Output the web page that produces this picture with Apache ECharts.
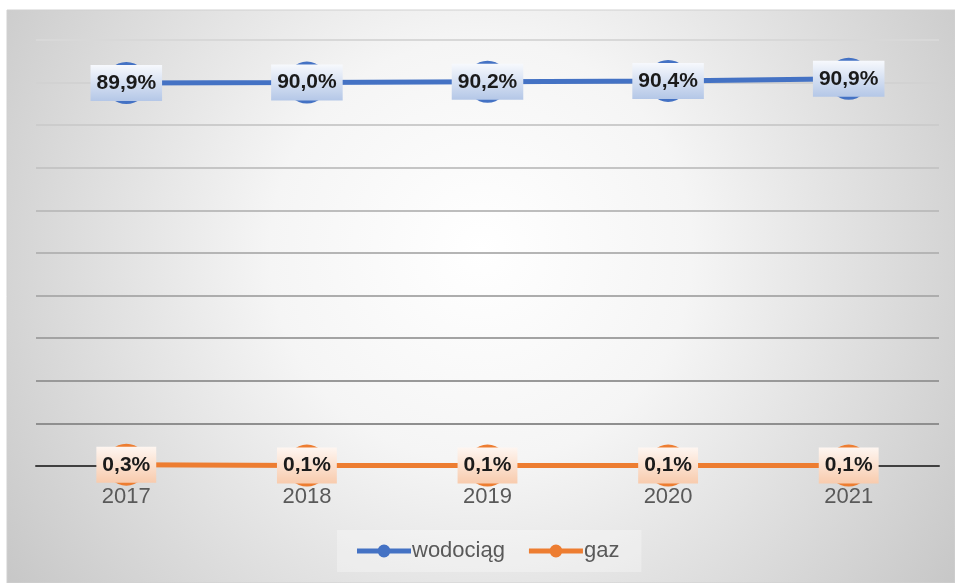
<!DOCTYPE html>
<html>
<head>
<meta charset="utf-8">
<script src="https://cdn.jsdelivr.net/npm/echarts@6/dist/echarts.min.js"></script>
<style>
html,body{margin:0;padding:0;background:#ffffff;}
#chart{width:955px;height:583px;}
</style>
</head>
<body>
<div id="chart"></div>
<script>
var categories = ['2017', '2018', '2019', '2020', '2021'];
var wodociag = [89.9, 90.0, 90.2, 90.4, 90.9];
var gaz = [0.3, 0.1, 0.1, 0.1, 0.1];
var seriesNames = ['wodociąg', 'gaz'];

var chart = echarts.init(document.getElementById('chart'));
var font = '"Liberation Sans", Arial, sans-serif';
function fmt(p) { return p.value.toFixed(1).replace('.', ',') + '%'; }
var legendIcon = 'path://M0,4.5 L54,4.5 L54,9.5 L0,9.5 Z M20.5,7 A6.5,6.5 0 1,1 33.5,7 A6.5,6.5 0 1,1 20.5,7 Z';

function labelStyle(top, bottom) {
  return {
    show: true,
    position: 'inside',
    formatter: fmt,
    fontFamily: font,
    fontWeight: 'bold',
    fontSize: 21,
    color: '#1a1a1a',
    padding: [8, 6, 7, 6],
    backgroundColor: {
      type: 'linear', x: 0, y: 0, x2: 0, y2: 1,
      colorStops: [{offset: 0, color: top}, {offset: 1, color: bottom}]
    }
  };
}

chart.setOption({
  animation: false,
  graphic: [{
    type: 'rect', z: -10, silent: true,
    shape: {x: 7, y: 10, width: 948, height: 573},
    style: {
      fill: {
        type: 'radial', x: 0.5, y: 0.42, r: 1.05,
        colorStops: [
          {offset: 0, color: '#ffffff'},
          {offset: 0.35, color: '#f5f5f5'},
          {offset: 1, color: '#c4c4c4'}
        ]
      },
      stroke: '#d0d0d0', lineWidth: 1
    }
  }],
  grid: {left: 36, right: 16, top: 40, bottom: 117, containLabel: false},
  legend: {
    data: seriesNames,
    bottom: 11,
    left: 337,
    icon: legendIcon,
    itemWidth: 54,
    itemHeight: 14,
    itemGap: 24,
    padding: [10, 22, 10, 20],
    backgroundColor: 'rgba(255,255,255,0.3)',
    textStyle: {fontFamily: font, fontSize: 22, color: '#595959', padding: [0, 0, 0, -4]}
  },
  xAxis: {
    type: 'category',
    data: categories,
    boundaryGap: true,
    axisLine: {show: true, lineStyle: {color: '#404040', width: 2}},
    axisTick: {show: false},
    axisLabel: {fontFamily: font, fontSize: 22, color: '#595959', margin: 20}
  },
  yAxis: {
    type: 'value',
    min: 0, max: 100, interval: 10,
    axisLabel: {show: false},
    axisLine: {show: false},
    axisTick: {show: false},
    splitLine: {lineStyle: {width: 2, color: ['#7f7f7f', '#8f8f8f', '#999999', '#a3a3a3', '#adadad', '#b5b5b5', '#bdbdbd', '#c5c5c5', '#cccccc', '#d2d2d2', '#d8d8d8']}}
  },
  series: [{
    name: seriesNames[0],
    type: 'line',
    data: wodociag,
    symbol: 'circle',
    symbolSize: 42,
    itemStyle: {color: '#4472C4'},
    lineStyle: {color: '#4472C4', width: 5},
    label: labelStyle('#f7f9fd', '#b4c7e7'),
    z: 3
  }, {
    name: seriesNames[1],
    type: 'line',
    data: gaz,
    symbol: 'circle',
    symbolSize: 42,
    itemStyle: {color: '#ED7D31'},
    lineStyle: {color: '#ED7D31', width: 5},
    label: labelStyle('#fef6f1', '#f8cbad'),
    z: 4
  }]
});
</script>
</body>
</html>
